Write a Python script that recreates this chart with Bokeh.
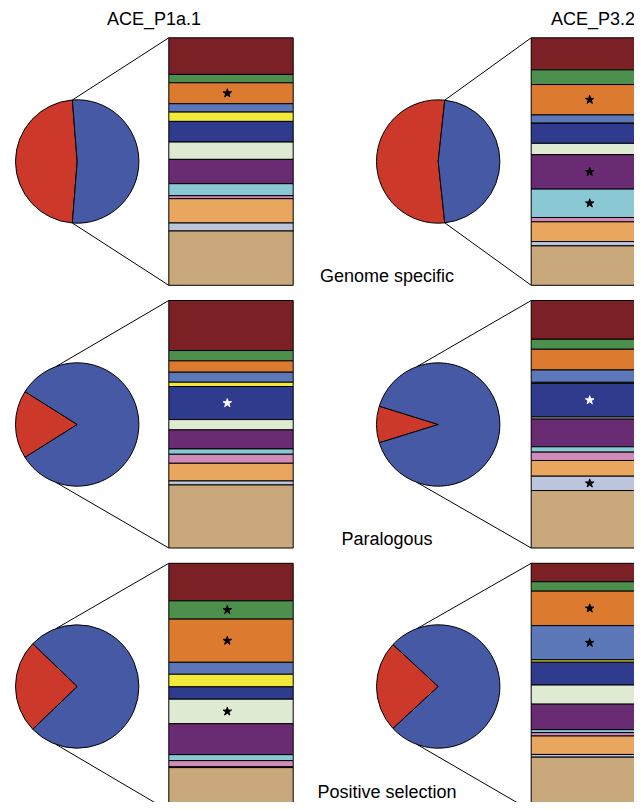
import numpy as np
from bokeh.plotting import figure
from bokeh.models import Range1d, ColumnDataSource
from bokeh.core.properties import value
from bokeh.embed import file_html
from bokeh.resources import INLINE

# ---------------- data ----------------
genomes = ["ACE_P1a.1", "ACE_P3.2"]
gene_sets = ["Genome specific", "Paralogous", "Positive selection"]

# category colours (top to bottom of each stacked bar)
cat_colors = ["#7B2125", "#4D8F4C", "#DC7A2F", "#5D78B9", "#F3E93B", "#2F3B8D",
              "#DEEAD2", "#692C73", "#8AC9D3", "#D08BB9", "#E9A65E", "#BBC6DC", "#C9A97C"]

# relative share of each category, per panel (row-major: gene set x genome)
bar_p1 = [110, 25, 63, 25, 28, 62, 52, 73, 36, 9, 73, 24, 163]
bar_p2 = [96, 44, 91, 25, 0, 60, 34, 103, 85, 13, 59, 13, 118]
bar_p3 = [150, 31, 34, 30, 13, 99, 31, 57, 16, 27, 53, 12, 189]
bar_p4 = [116, 30, 62, 37, 3, 101, 6, 83, 16, 25, 47, 43, 172]
bar_p5 = [113, 55, 130, 36, 38, 37, 74, 93, 18, 19, 1, 1, 130]
bar_p6 = [55, 28, 103, 102, 7, 68, 57, 76, 9, 10, 55, 8, 160]
bars = [bar_p1, bar_p2, bar_p3, bar_p4, bar_p5, bar_p6]

# categories marked with an asterisk (significant)
stars_p1 = [2]
stars_p2 = [2, 7, 8]
stars_p3 = [5]
stars_p4 = [5, 11]
stars_p5 = [1, 2, 6]
stars_p6 = [2, 3]
stars = [stars_p1, stars_p2, stars_p3, stars_p4, stars_p5, stars_p6]

# pie: percent of the set (red wedge) vs rest (blue)
pie_red_pct = [47.5, 53.4, 17.9, 9.6, 24.4, 23.8]
pie_red = "#CC392B"
pie_blue = "#4659A4"

# ---------------- layout ----------------
W, H = 634, 802
p = figure(width=W, height=H, x_range=Range1d(0, 634), y_range=Range1d(8, 810),
           output_backend="svg", toolbar_location=None, min_border=0)
p.axis.visible = False
p.grid.visible = False
p.outline_line_color = None
p.background_fill_color = "white"

def Y(screen_y):
    return 810 - screen_y

pie_cx = [76.7, 437.7]
row_cy = [161, 424, 686]
radius = 61.7
bar_left = [168.3, 530.7]
bar_w = 124.4
row_top = [37.3, 300.0, 562.8]
bar_h = 247.5

for i in range(6):
    r, c = divmod(i, 2)
    cx, cy = pie_cx[c], Y(row_cy[r])
    half = np.pi * pie_red_pct[i] / 100.0
    a1, a2 = np.pi - half, np.pi + half
    # pie wedges
    p.wedge(x=[cx], y=[cy], radius=radius, start_angle=a1, end_angle=a2,
            direction="anticlock", fill_color=pie_red, line_color="black", line_width=1)
    p.wedge(x=[cx], y=[cy], radius=radius, start_angle=a2, end_angle=a1 + 2 * np.pi,
            direction="anticlock", fill_color=pie_blue, line_color="black", line_width=1)

    # connector lines
    top_ang = min(a1, np.deg2rad(110))
    bot_ang = 2 * np.pi - top_ang
    x0, ytop = bar_left[c], Y(row_top[r])
    ybot = Y(row_top[r] + bar_h)
    p.segment(x0=[cx + radius * np.cos(top_ang), cx + radius * np.cos(bot_ang)],
              y0=[cy + radius * np.sin(top_ang), cy + radius * np.sin(bot_ang)],
              x1=[x0, x0], y1=[ytop, ybot], line_color="black", line_width=1)

    # stacked bar
    vals = np.array(bars[i], dtype=float)
    frac = vals / vals.sum() * bar_h
    edges = np.concatenate([[0], np.cumsum(frac)])
    src = ColumnDataSource(dict(
        left=[x0] * len(vals), right=[x0 + bar_w] * len(vals),
        top=[Y(row_top[r] + e) for e in edges[:-1]],
        bottom=[Y(row_top[r] + e) for e in edges[1:]],
        color=cat_colors))
    p.quad(left="left", right="right", top="top", bottom="bottom", source=src,
           fill_color="color", line_color="black", line_width=1)

    # asterisks
    sx, sy, sc = [], [], []
    for k in stars[i]:
        sx.append(x0 + 58.5)
        sy.append(Y(row_top[r] + (edges[k] + edges[k + 1]) / 2))
        sc.append("white" if k == 5 else "black")
    p.scatter(x=sx, y=sy, marker="star", size=9, fill_color=sc, line_color=sc)

# titles
p.text(x=[153.5, 592.5], y=[Y(18), Y(18)], text=genomes,
       text_font=value("Liberation Sans"), text_font_size="18px",
       text_align="center", text_baseline="middle", text_color="black")
p.text(x=[386.5, 386.5, 386.5], y=[Y(275), Y(538), Y(791)], text=gene_sets,
       text_font=value("Liberation Sans"), text_font_size="18px",
       text_align="center", text_baseline="middle", text_color="black")

open("out.html", "w").write(file_html(p, INLINE))
